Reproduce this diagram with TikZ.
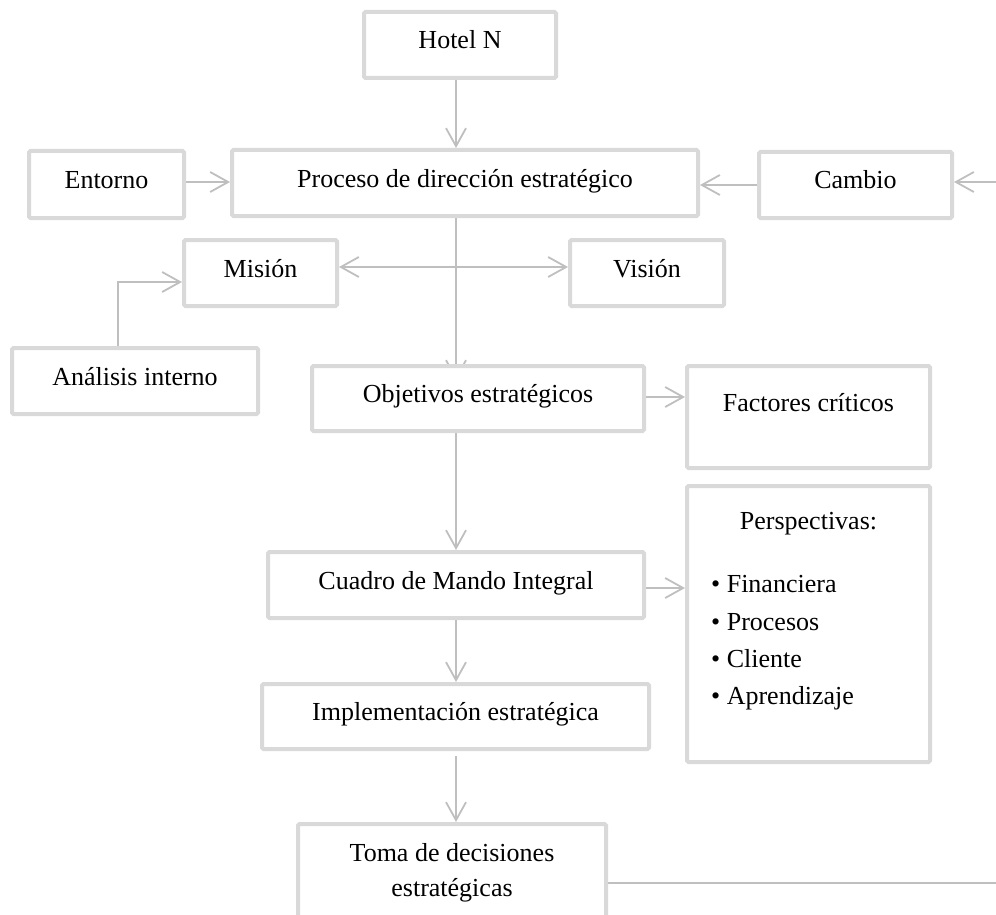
\documentclass[tikz,border=0pt]{standalone}
\usepackage{fontspec}
\setmainfont{Liberation Serif}
\usetikzlibrary{arrows.meta,backgrounds}
\definecolor{boxgray}{HTML}{D9D9D9}
\definecolor{arrgray}{HTML}{BFBFBF}
\begin{document}
\begin{tikzpicture}[x=1pt,y=-1pt,
  box/.style={draw=boxgray,line width=4pt,fill=white,rounded corners=1.5pt,
    inner sep=0pt,font=\fontsize{26}{36}\selectfont,
    text height=16pt,text depth=8pt},
  lbl/.style={inner sep=0pt,font=\fontsize{26}{36}\selectfont},
  arr/.style={draw=arrgray,line width=1.8pt,
    -{Straight Barb[length=18pt,width=20pt,line width=1.8pt]}},
  plain/.style={draw=arrgray,line width=1.5pt}]
\useasboundingbox (0,0) rectangle (996,915);

% boxes
\node[box,minimum width=192pt,minimum height=66pt] (hotel) at (460,45) {Hotel N};
\node[box,minimum width=155pt,minimum height=67pt] (entorno) at (106.5,184.5) {Entorno};
\node[box,minimum width=466pt,minimum height=66pt] (proc) at (465,183) {Proceso de dirección estratégico};
\node[box,minimum width=193pt,minimum height=66pt] (cambio) at (855.5,185) {Cambio};
\node[box,minimum width=153pt,minimum height=66pt] (mision) at (260.5,273) {Misión};
\node[box,minimum width=154pt,minimum height=66pt] (vision) at (647,273) {Visión};
\node[box,minimum width=246pt,minimum height=66pt] (analisis) at (135,381) {Análisis interno};
\node[box,minimum width=332pt,minimum height=65pt] (obj) at (478,398.5) {Objetivos estratégicos};
\node[box,minimum width=243pt,minimum height=102pt] (fact) at (808.5,417) {};
\node[lbl,anchor=base] (facttxt) at (808.5,411) {Factores críticos};
\node[box,minimum width=376pt,minimum height=66pt] (cuadro) at (456,585) {Cuadro de Mando Integral};
\node[box,minimum width=243pt,minimum height=276pt] (persp) at (808.5,624) {};
\node[lbl,anchor=base] (ptitle) at (808.5,529) {Perspectivas:};
\node[lbl,anchor=base west] (p1) at (711,592) {\textbullet\ Financiera};
\node[lbl,anchor=base west] (p2) at (711,630) {\textbullet\ Procesos};
\node[lbl,anchor=base west] (p3) at (711,667) {\textbullet\ Cliente};
\node[lbl,anchor=base west] (p4) at (711,704) {\textbullet\ Aprendizaje};
\node[box,minimum width=387pt,minimum height=65pt] (impl) at (455.5,716.5) {Implementación estratégica};
\node[box,minimum width=308pt,minimum height=104pt] (toma) at (452,876) {};
\node[lbl,anchor=base] (toma1) at (452,861) {Toma de decisiones};
\node[lbl,anchor=base] (toma2) at (452,896) {estratégicas};

% helper coordinates
\coordinate (sp) at (456,0);
\coordinate (mv) at (456,267);
\coordinate (ml) at (472,267);
\coordinate (rin) at (996,182);
\coordinate (an) at (118,282);
\coordinate (objin) at (456,380);
\coordinate (tr) at (996,883);

\begin{scope}[on background layer]
  \draw[arr] (hotel.south -| sp) -- (proc.north -| sp);
  \draw[arr] (entorno.east |- 0,182) -- (proc.west |- 0,182);
  \draw[arr] (cambio.west) -- (proc.east |- cambio.west);
  \draw[arr] (rin) -- (cambio.east |- rin);
  \draw[arr] (proc.south -| sp) -- (objin);
  \draw[arr] (ml) -- (mision.east |- ml);
  \draw[arr] (mv) -- (vision.west |- mv);
  \draw[arr] (analisis.north -| an) -- (an) -- (mision.west |- an);
  \draw[arr] (obj.east |- 0,397) -- (fact.west |- 0,397);
  \draw[arr] (obj.south -| sp) -- (cuadro.north -| sp);
  \draw[arr] (cuadro.east |- 0,588) -- (persp.west |- 0,588);
  \draw[arr] (cuadro.south -| sp) -- (impl.north -| sp);
  \draw[arr,shorten <=5pt] (impl.south -| sp) -- (toma.north -| sp);
  \draw[plain] (toma.east |- tr) -- (tr);
\end{scope}
\end{tikzpicture}
\end{document}
